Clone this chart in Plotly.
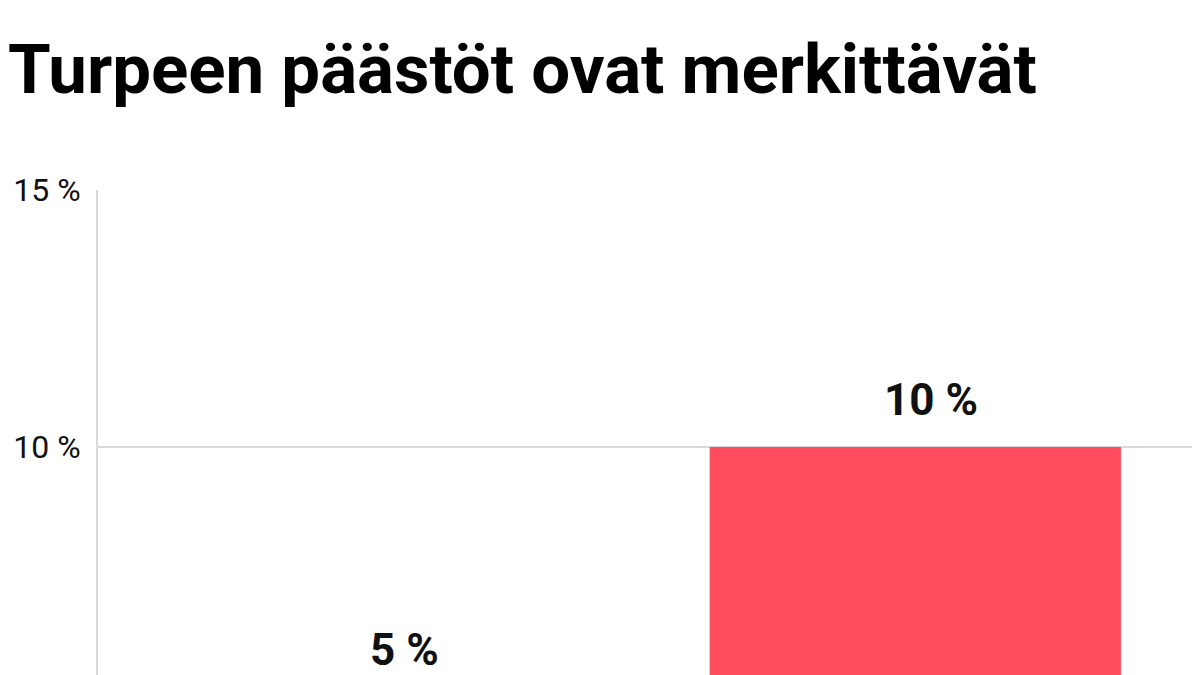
import plotly.graph_objects as go

# Peat share of energy vs share of emissions (%)
categories = ['Osuus energiasta', 'Osuus päästöistä']
values = [5, 10]
labels = ['5 %', '10 %']
colors = ['#b0b0b0', '#FF4D5E']
tick_vals = [10, 15]
tick_text = ['10 %', '15 %']

fig = go.Figure(go.Bar(
    x=categories,
    y=values,
    marker_color=colors,
    marker_line_width=0,
    width=0.78,
    hoverinfo='skip',
))

# value labels above the bars
label_shift = [26, 19]
for cat, val, lab, dy in zip(categories, values, labels, label_shift):
    fig.add_annotation(
        x=cat, y=val, text=lab, showarrow=False,
        xanchor='center', yanchor='bottom', xshift=16, yshift=dy,
        font=dict(family='Roboto', size=44, color='#111111', weight='bold'),
    )

# the original chart is taller than the window and is cropped at the bottom;
# page body has an 8px margin, so width is a bit smaller than the window
fig.update_layout(
    width=1192, height=953,
    margin=dict(l=90, r=0, t=182, b=0, autoexpand=False),
    paper_bgcolor='white', plot_bgcolor='white',
    showlegend=False,
    title=dict(
        text='<b>Turpeen päästöt ovat merkittävät</b>',
        xref='container', yref='container',
        x=0, xanchor='left', y=1 - 61 / 953, yanchor='middle',
        font=dict(family='Roboto', size=69, color='#000000'),
    ),
    font=dict(family='Roboto', color='#111111'),
)

fig.update_xaxes(
    range=[-0.55, 1.54], showticklabels=False, showgrid=False,
    zeroline=False, showline=False, automargin=False,
)
fig.update_yaxes(
    range=[0, 15], tickmode='array', tickvals=tick_vals, ticktext=tick_text,
    tickfont=dict(family='Roboto', size=32, color='#111111'),
    ticks='outside', ticklen=9, tickcolor='rgba(0,0,0,0)',
    showgrid=True, gridcolor='#d9d9d9', gridwidth=2,
    showline=True, linecolor='#d9d9d9', linewidth=2,
    zeroline=False, automargin=False,
)

fig.write_html('out.html')
